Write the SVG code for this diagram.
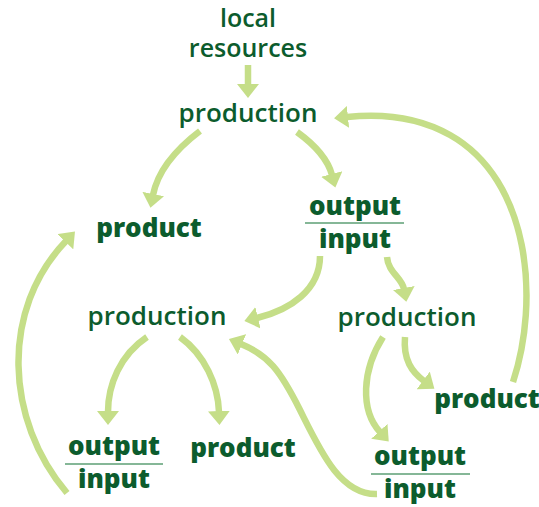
<svg xmlns="http://www.w3.org/2000/svg" width="539" height="507" viewBox="0 0 539 507">
<style>
.t{font-family:"Open Sans","Liberation Sans",sans-serif;fill:#0c5c2d;text-anchor:middle;font-size:26px}
.m{font-weight:600}
.b{font-weight:800}
.s{font-size:25px}
.c{fill:none;stroke:#c5de88;stroke-width:6.5;marker-end:url(#ah)}
.d{stroke:#5d9f74;stroke-width:1.6}
</style>
<defs>
<marker id="ah" markerUnits="userSpaceOnUse" viewBox="0 0 14 22" markerWidth="14" markerHeight="22" refX="1" refY="11" orient="auto">
<path d="M0,0 L14,11 L0,22 z" fill="#c5de88"/>
</marker>
</defs>
<rect width="539" height="507" fill="#fff"/>
<g id="connectors">
<path class="c" d="M248,65 L248,85"/>
<path class="c" d="M200,131 C175,150 158,170 153,195"/>
<path class="c" d="M297,132 C315,145 328,160 332,175"/>
<path class="c" d="M513,382 C540,300 530,180 450,135 C420,118 385,113 347,117"/>
<path class="c" d="M320,256 C320,290 290,310 257,318"/>
<path class="c" d="M387,257 C388,272 402,278 404,289"/>
<path class="c" d="M147,337 C120,355 108,385 108,412"/>
<path class="c" d="M180,337 C205,355 218,385 219,412"/>
<path class="c" d="M383,337 C362,370 360,410 380,432"/>
<path class="c" d="M405,337 C403,360 412,372 424,381"/>
<path class="c" d="M67,493 C5,420 0,310 66,241"/>
<path class="c" d="M377,494 C340,495 320,450 300,410 C280,370 268,355 241,344"/>
</g>
<g id="local-resources"><text class="t m s" x="248" y="27">local</text><text class="t m s" x="248" y="57">resources</text></g>
<g id="production-top"><text class="t m" x="248" y="122">production</text></g>
<g id="product-top"><text class="t b" x="149" y="237">product</text></g>
<g id="output-input-top"><text class="t b" x="355" y="215">output</text><line class="d" x1="305" y1="223" x2="404" y2="223"/><text class="t b" x="355" y="248">input</text></g>
<g id="production-left"><text class="t m" x="157" y="325">production</text></g>
<g id="production-right"><text class="t m" x="407" y="326">production</text></g>
<g id="product-right"><text class="t b" x="487" y="408">product</text></g>
<g id="output-input-left"><text class="t b" x="114" y="455">output</text><line class="d" x1="65" y1="464" x2="163" y2="464"/><text class="t b" x="114" y="488">input</text></g>
<g id="product-bottom"><text class="t b" x="243" y="457">product</text></g>
<g id="output-input-right"><text class="t b" x="420" y="465">output</text><line class="d" x1="371" y1="474" x2="470" y2="474"/><text class="t b" x="420" y="498">input</text></g>
</svg>
